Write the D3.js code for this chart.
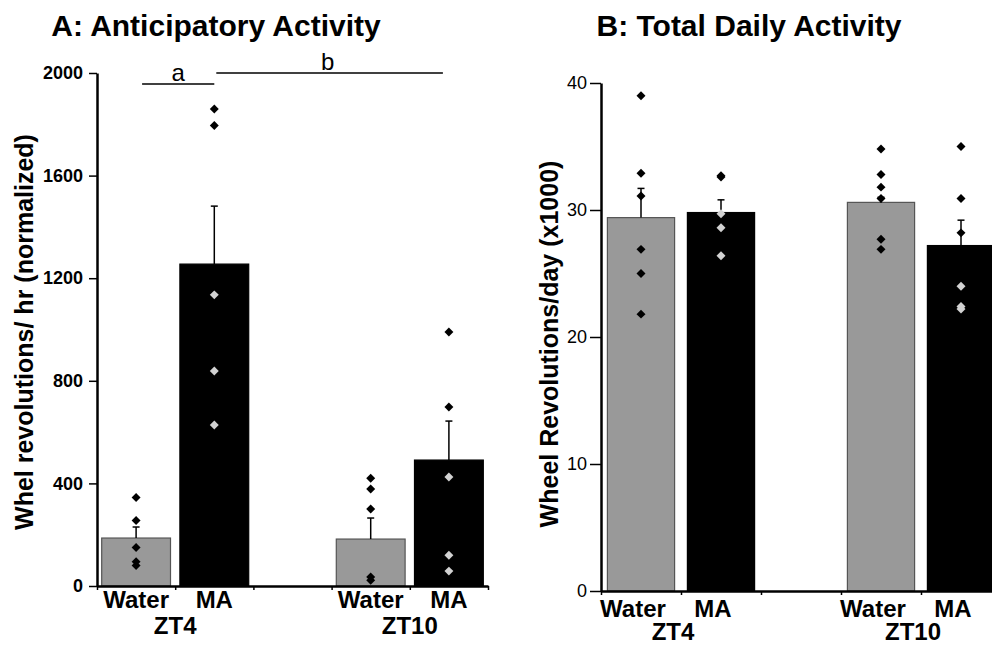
<!DOCTYPE html>
<html>
<head>
<meta charset="utf-8">
<script src="https://cdn.jsdelivr.net/npm/d3@7"></script>
<style>
  body { margin: 0; background: #fff; }
  svg { display: block; font-family: "Liberation Sans", Arial, sans-serif; }
  .domain { stroke: #000; stroke-width: 2.5; }
  .tick line { stroke: #000; stroke-width: 1.5; }
</style>
</head>
<body>
<svg id="chart" width="992" height="646"></svg>
<script>
"use strict";

// categories along the x axis (middle slot is an empty gap)
const catKeys   = ["w4", "m4", "gap", "w10", "m10"];
const catLabels = ["Water", "MA", "", "Water", "MA"];
const barKeys   = ["w4", "m4", "w10", "m10"];
const barTreat  = ["water", "ma", "water", "ma"];
const groupLabels = [["ZT4", "w4", "m4"], ["ZT10", "w10", "m10"]];

// A: anticipatory activity (revolutions / hr, normalized)
const anticMeans  = [187, 1255, 183, 491];
const anticSem    = [43, 226, 82, 152];
const anticPoints = [
	[345, 255, 150, 95, 80],
	[1860, 1795, 1135, 838, 628],
	[420, 378, 300, 35, 22],
	[990, 698, 425, 120, 58]
];
const anticTicks = [0, 400, 800, 1200, 1600, 2000];
// significance bars: label, from bar, to bar, height
const anticSig = [["a", "w4", "m4", 1957], ["b", "m4", "m10", 2000]];

// B: total daily activity (revolutions / day, x1000)
const dailyMeans  = [29.4, 29.8, 30.6, 27.2];
const dailySem    = [2.3, 1.0, 0.4, 2.0];
const dailyPoints = [
	[39.0, 32.9, 31.1, 26.9, 25.0, 21.8],
	[32.7, 32.6, 29.7, 28.6, 26.4],
	[34.8, 32.8, 31.8, 30.9, 27.7, 26.9],
	[35.0, 30.9, 28.2, 24.0, 22.4, 22.2]
];
const dailyTicks = [0, 10, 20, 30, 40];

const fill = {water: "#999999", ma: "#000000"};
const svg = d3.select("#chart");

function panel(cfg) {
	let g = svg.append("g");
	let x = d3.scaleBand()
		.domain(catKeys)
		.range([cfg.x0, cfg.x1])
		.paddingInner(cfg.pad)
		.paddingOuter(cfg.pad / 2);
	let y = d3.scaleLinear()
		.domain(cfg.domain)
		.range([cfg.y1, cfg.y0]);
	let bw = x.bandwidth();
	let cx = k => x(k) + bw / 2;

	// title
	g.append("text")
		.attr("x", cfg.titleX)
		.attr("y", 36)
		.attr("text-anchor", "middle")
		.style("font-size", "30px")
		.style("font-weight", "bold")
		.text(cfg.title);

	// bars
	g.selectAll(".bar")
		.data(barKeys)
		.enter()
		.append("rect")
		.attr("x", k => x(k))
		.attr("width", bw)
		.attr("y", (k, i) => y(cfg.means[i]))
		.attr("height", (k, i) => y(0) - y(cfg.means[i]))
		.attr("fill", (k, i) => fill[barTreat[i]])
		.attr("stroke", (k, i) => barTreat[i] == "water" ? "#555" : "#000")
		.attr("stroke-width", 1.2);

	// error bars, upward only
	let err = g.selectAll(".err")
		.data(barKeys)
		.enter()
		.append("g");
	err.append("line")
		.attr("x1", cx).attr("x2", cx)
		.attr("y1", (k, i) => y(cfg.means[i]))
		.attr("y2", (k, i) => y(cfg.means[i] + cfg.sem[i]))
		.attr("stroke", "#000").attr("stroke-width", 1.5);
	err.append("line")
		.attr("x1", k => cx(k) - 3.5).attr("x2", k => cx(k) + 3.5)
		.attr("y1", (k, i) => y(cfg.means[i] + cfg.sem[i]))
		.attr("y2", (k, i) => y(cfg.means[i] + cfg.sem[i]))
		.attr("stroke", "#000").attr("stroke-width", 1.5);

	// individual animals
	let diamond = d3.symbol().type(d3.symbolSquare).size(40);
	let pts = [];
	cfg.points.forEach((arr, i) => {
		for (let v of arr) pts.push({k: barKeys[i], v: v, i: i});
	});
	g.selectAll(".pt")
		.data(pts)
		.enter()
		.append("path")
		.attr("d", diamond)
		.attr("transform", d => `translate(${cx(d.k)},${y(d.v)}) rotate(45)`)
		.attr("fill", d => (barTreat[d.i] == "ma" && d.v < cfg.means[d.i]) ? "#d2d2d2" : "#000");

	// y axis
	let yaxis = g.append("g")
		.attr("transform", `translate(${cfg.x0},0)`)
		.call(d3.axisLeft(y)
			.tickValues(cfg.ticks)
			.tickFormat(d3.format("d"))
			.tickSize(cfg.tickLen)
			.tickSizeOuter(0)
			.tickPadding(cfg.tickPad));
	yaxis.selectAll(".tick text")
		.style("font-size", "18px")
		.style("font-weight", cfg.tickWeight)
		.attr("fill", "#000");

	// x axis, ticks between categories
	let xb = d3.scaleLinear().domain([0, catKeys.length]).range([cfg.x0, cfg.x1]);
	g.append("g")
		.attr("transform", `translate(0,${cfg.y1})`)
		.call(d3.axisBottom(xb).tickValues(d3.range(catKeys.length + 1)).tickSize(4).tickSizeOuter(0).tickFormat(""));

	// category labels
	g.selectAll(".catlabel")
		.data(catKeys)
		.enter()
		.append("text")
		.attr("x", k => cx(k) + cfg.labelShift)
		.attr("y", cfg.y1 + cfg.catDy)
		.attr("text-anchor", "middle")
		.style("font-size", "24px")
		.style("font-weight", "bold")
		.text((k, i) => catLabels[i]);
	g.selectAll(".grplabel")
		.data(groupLabels)
		.enter()
		.append("text")
		.attr("x", d => (cx(d[1]) + cx(d[2])) / 2 + cfg.labelShift)
		.attr("y", cfg.y1 + cfg.grpDy)
		.attr("text-anchor", "middle")
		.style("font-size", "24px")
		.style("font-weight", "bold")
		.text(d => d[0]);

	// y label
	g.append("text")
		.attr("transform", `translate(${cfg.ylabX},${cfg.ylabY}) rotate(-90)`)
		.attr("text-anchor", "middle")
		.attr("dy", "0.35em")
		.style("font-size", "25px")
		.style("font-weight", "bold")
		.text(cfg.ylabel);

	return {g: g, x: x, y: y, cx: cx};
}

let A = panel({
	title: "A: Anticipatory Activity", titleX: 216,
	x0: 97, x1: 488, y0: 73, y1: 586, pad: 0.12,
	domain: [0, 2000], ticks: anticTicks, tickLen: 8, tickPad: 6, tickWeight: "bold",
	means: anticMeans, sem: anticSem, points: anticPoints,
	labelShift: 0, catDy: 22, grpDy: 48,
	ylabel: "Whel revolutions/ hr (normalized)", ylabX: 24, ylabY: 332
});

// significance bars in panel A
let sig = A.g.selectAll(".sig")
	.data(anticSig)
	.enter()
	.append("g");
sig.append("line")
	.attr("x1", (d, i) => A.cx(d[1]) + (i == 0 ? 6 : 2))
	.attr("x2", (d, i) => A.cx(d[2]) - (i == 0 ? 0 : 6))
	.attr("y1", d => A.y(d[3]))
	.attr("y2", d => A.y(d[3]))
	.attr("stroke", "#000").attr("stroke-width", 1.5);
sig.append("text")
	.attr("x", (d, i) => (A.cx(d[1]) + A.cx(d[2])) / 2 + (i == 0 ? 3 : -4))
	.attr("y", d => A.y(d[3]) - 3)
	.attr("text-anchor", "middle")
	.style("font-size", "24px")
	.text(d => d[0]);

panel({
	title: "B: Total Daily Activity", titleX: 749,
	x0: 601, x1: 1001, y0: 83, y1: 591, pad: 0.16,
	domain: [0, 40], ticks: dailyTicks, tickLen: 11, tickPad: 3, tickWeight: "normal",
	means: dailyMeans, sem: dailySem, points: dailyPoints,
	labelShift: -8, catDy: 26, grpDy: 49,
	ylabel: "Wheel Revolutions/day (x1000)", ylabX: 549, ylabY: 344
});
</script>
</body>
</html>
